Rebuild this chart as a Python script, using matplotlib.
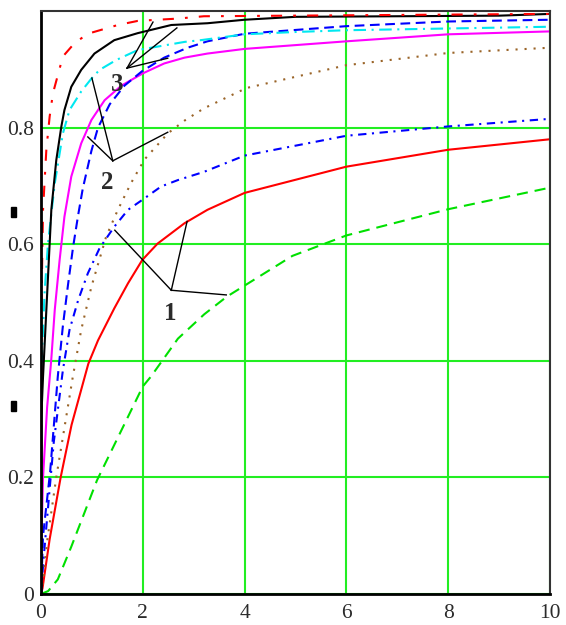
import matplotlib
matplotlib.use("Agg")
import matplotlib.pyplot as plt
from matplotlib.patches import Rectangle

# Values (x, y pairs per curve)
redX = [0, 0.03, 0.17, 0.386, 0.6, 0.93, 1.12, 1.44, 1.71, 1.99, 2.29, 2.82, 3.27, 4, 6, 8, 10]
redY = [0, 0.01, 0.094, 0.2, 0.29, 0.395, 0.435, 0.49, 0.533, 0.573, 0.601, 0.636, 0.659, 0.688, 0.733, 0.762, 0.78]

greenX = [0, 0.14, 0.33, 0.59, 1.1, 2.0, 2.16, 2.69, 3.21, 3.65, 4.94, 6, 8, 10]
greenY = [0, 0.005, 0.025, 0.08, 0.195, 0.356, 0.373, 0.438, 0.48, 0.51, 0.58, 0.615, 0.66, 0.697]

blueDashDotX = [0, 0.05, 0.14, 0.25, 0.43, 0.56, 0.73, 0.92, 1.15, 1.44, 1.71, 1.99, 2.36, 2.69, 3.2, 4, 6, 8, 10]
blueDashDotY = [0, 0.06, 0.15, 0.26, 0.384, 0.453, 0.504, 0.55, 0.593, 0.63, 0.659, 0.676, 0.699, 0.71, 0.724, 0.752, 0.786, 0.802, 0.815]

brownX = [0, 0.05, 0.12, 0.3, 0.62, 0.79, 0.99, 1.28, 1.51, 1.77, 2.03, 2.49, 2.82, 3.2, 4.04, 6, 8, 10]
brownY = [0, 0.03, 0.09, 0.2, 0.37, 0.453, 0.527, 0.613, 0.659, 0.705, 0.745, 0.79, 0.812, 0.833, 0.868, 0.907, 0.928, 0.937]

magentaX = [0, 0.01, 0.04, 0.12, 0.2, 0.27, 0.366, 0.46, 0.595, 0.79, 0.99, 1.25, 1.58, 2.0, 2.42, 2.82, 3.27, 4, 6, 8, 10]
magentaY = [0, 0.1, 0.2, 0.32, 0.4, 0.487, 0.573, 0.647, 0.716, 0.773, 0.813, 0.847, 0.872, 0.893, 0.91, 0.92, 0.927, 0.935, 0.948, 0.96, 0.965]

blueDashX = [0, 0.04, 0.18, 0.33, 0.43, 0.53, 0.63, 0.73, 0.82, 0.99, 1.12, 1.35, 1.64, 1.99, 2.42, 2.88, 3.27, 4, 6, 8, 10]
blueDashY = [0, 0.1, 0.21, 0.373, 0.46, 0.53, 0.595, 0.65, 0.695, 0.76, 0.8, 0.84, 0.872, 0.897, 0.92, 0.937, 0.948, 0.961, 0.974, 0.982, 0.985]

cyanX = [0, 0.003, 0.01, 0.07, 0.137, 0.27, 0.43, 0.56, 0.79, 0.99, 1.15, 1.48, 1.9, 2.82, 3.14, 4, 5, 6, 8, 10]
cyanY = [0, 0.3, 0.39, 0.516, 0.601, 0.704, 0.79, 0.83, 0.862, 0.884, 0.899, 0.916, 0.933, 0.947, 0.95, 0.96, 0.964, 0.967, 0.97, 0.973]

blackX = [0, 0.005, 0.04, 0.105, 0.203, 0.3, 0.4, 0.46, 0.595, 0.79, 1.05, 1.44, 1.9, 2.56, 3.27, 4, 5, 9, 10]
blackY = [0, 0.3, 0.373, 0.487, 0.659, 0.744, 0.802, 0.83, 0.87, 0.899, 0.927, 0.95, 0.962, 0.976, 0.979, 0.985, 0.99, 0.992, 0.995]

redDashDotX = [0, 0.01, 0.04, 0.105, 0.17, 0.235, 0.43, 0.66, 0.92, 1.51, 1.9, 2.69, 3.2, 10]
redDashDotY = [0, 0.5, 0.659, 0.762, 0.819, 0.859, 0.922, 0.945, 0.961, 0.976, 0.983, 0.987, 0.991, 0.995]

xTicks = [0, 2, 4, 6, 8, 10]
yTicks = [0, 0.2, 0.4, 0.6, 0.8]
yTickLabels = ["0", "0.2", "0.4", "0.6", "0.8"]

# leader lines: label text, label position, apex, pointed-to points
callouts = [
    ("1", (2.53, 0.50), (2.56, 0.521), [(1.45, 0.624), (2.87, 0.639), (3.64, 0.513)]),
    ("2", (1.31, 0.725), (1.41, 0.743), [(1.0, 0.885), (0.92, 0.784), (2.49, 0.792)]),
    ("3", (1.49, 0.893), (1.69, 0.902), [(2.2, 0.981), (2.67, 0.971), (2.49, 0.919)]),
]

plt.rcParams["lines.scale_dashes"] = False
serif = ["Liberation Serif", "DejaVu Serif"]
textColor = "#2b2b2b"

fig = plt.figure(figsize=(5.66, 6.25), dpi=100)
ax = fig.add_axes([41 / 566, 31 / 625, 509 / 566, 583 / 625])

lw = 1.5
ax.plot(greenX, greenY, color="#00e000", lw=lw, dashes=(8, 5))
ax.plot(redX, redY, color="#ff0000", lw=lw)
ax.plot(blueDashDotX, blueDashDotY, color="#0000ff", lw=lw, dashes=(6, 4, 1.5, 4))
ax.plot(brownX, brownY, color="#9a6428", lw=lw, dashes=(1.5, 5))
ax.plot(magentaX, magentaY, color="#ff00ff", lw=lw)
ax.plot(blueDashX, blueDashY, color="#0000ff", lw=lw, dashes=(7, 4))
ax.plot(cyanX, cyanY, color="#00e8f0", lw=lw, dashes=(9, 4, 1.5, 4))
ax.plot(blackX, blackY, color="black", lw=lw)
ax.plot(redDashDotX, redDashDotY, color="#ff0000", lw=lw, dashes=(8, 8, 2, 8))

for text, labelPos, apex, targets in callouts:
    for tx, ty in targets:
        ax.plot([apex[0], tx], [apex[1], ty], color="black", lw=1.0)
    ax.text(labelPos[0], labelPos[1], text, fontsize=18, fontweight="bold",
            family=serif, color=textColor, ha="center", va="top")

ax.set_xlim(0, 10)
ax.set_ylim(0, 1.0)
ax.set_xticks(xTicks)
ax.set_yticks(yTicks)
ax.set_xticklabels([str(t) for t in xTicks])
ax.set_yticklabels(yTickLabels)
ax.grid(True, color="#22ee22", lw=1.5)
ax.set_axisbelow(True)
ax.tick_params(length=0, labelsize=15.5, labelcolor=textColor)
ax.tick_params(axis="x", pad=7)
ax.tick_params(axis="y", pad=5)
for lab in ax.get_xticklabels() + ax.get_yticklabels():
    lab.set_family(serif)
for side in ["left", "bottom"]:
    ax.spines[side].set_linewidth(2.0)
for side in ["top", "right"]:
    ax.spines[side].set_linewidth(1.5)
    ax.spines[side].set_color("#333333")

# two small black marks left of the axis
for top in [207, 401]:
    fig.add_artist(Rectangle((11 / 566, 1 - (top + 10) / 625), 5 / 566, 10 / 625,
                             transform=fig.transFigure, color="black"))

fig.savefig("out.png", dpi=100)
